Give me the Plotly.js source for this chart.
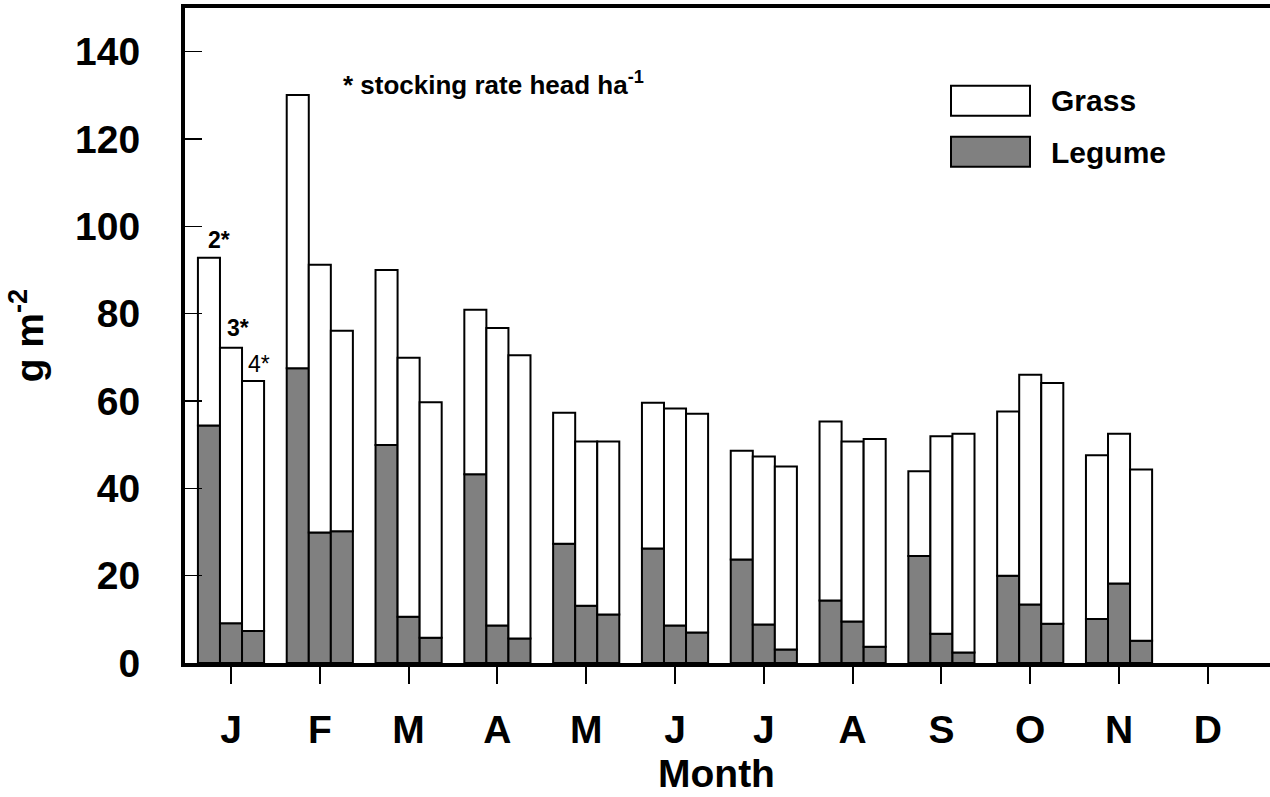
<!DOCTYPE html>
<html>
<head>
<meta charset="utf-8">
<script src="https://cdn.plot.ly/plotly-3.0.1.min.js"></script>
<style>html,body{margin:0;padding:0;background:#fff;}#chart{width:1270px;height:797px;}</style>
</head>
<body>
<div id="chart"></div>
<script>
// Month tick labels (January .. December)
var monthLabels = ['J','F','M','A','M','J','J','A','S','O','N','D'];
// Month index for each measured group (Jan..Nov)
var monthIdx = [0,1,2,3,4,5,6,7,8,9,10];

// Total herbage mass (g m-2) by stocking rate (head ha-1)
var total2 = [92.8,130.1,90.0,80.9,57.3,59.6,48.6,55.3,43.9,57.6,47.6];
var total3 = [72.2,91.2,69.9,76.7,50.7,58.3,47.3,50.7,51.9,66.0,52.5];
var total4 = [64.6,76.1,59.7,70.5,50.7,57.1,45.0,51.3,52.5,64.1,44.3];

// Legume component (g m-2)
var legume2 = [54.4,67.5,49.9,43.2,27.3,26.2,23.7,14.3,24.5,20.0,10.1];
var legume3 = [9.1,29.9,10.6,8.6,13.1,8.6,8.8,9.5,6.7,13.4,18.2];
var legume4 = [7.3,30.2,5.8,5.6,11.1,7.0,3.1,3.7,2.4,9.0,5.1];

var rates = ['2','3','4'];
var totals = [total2,total3,total4];
var legumes = [legume2,legume3,legume4];

var FONT = 'Liberation Sans, Arial, Helvetica, sans-serif';
var traces = [];
rates.forEach(function(r,i){
  var leg = legumes[i];
  var grass = totals[i].map(function(t,k){return +(t-leg[k]).toFixed(2);});
  traces.push({
    type:'bar', x:monthIdx, y:leg, offsetgroup:r, name:'Legume',
    marker:{color:'#808080', line:{color:'#000', width:2}}, showlegend:false
  });
  traces.push({
    type:'bar', x:monthIdx, y:grass, base:leg, offsetgroup:r, name:'Grass',
    marker:{color:'#ffffff', line:{color:'#000', width:2}}, showlegend:false
  });
});

var pxX = function(px){return (px-185)/1085;};
var pxY = function(py){return (663-py)/654.6;};

var layout = {
  width:1270, height:797,
  margin:{l:185, r:0, t:8.4, b:134},
  paper_bgcolor:'#fff', plot_bgcolor:'#fff',
  barmode:'group', bargap:0.255, bargroupgap:0,
  font:{family:FONT, color:'#000'},
  xaxis:{
    range:[-0.518, 11.70], tickmode:'array',
    tickvals:monthLabels.map(function(m,i){return i;}), ticktext:monthLabels,
    showline:true, mirror:true, linewidth:4, linecolor:'#000',
    ticks:'outside', ticklen:17, tickwidth:2, tickcolor:'#000',
    showgrid:false, zeroline:false,
    tickfont:{family:FONT, size:39, weight:'bold'}, ticklabelstandoff:12
  },
  yaxis:{
    range:[0,150], tickvals:[0,20,40,60,80,100,120,140],
    showline:true, linewidth:4, linecolor:'#000',
    ticks:'inside', ticklen:17, tickwidth:1.5, tickcolor:'#000',
    showgrid:false, zeroline:false,
    tickfont:{family:FONT, size:39, weight:'bold'}, ticklabelstandoff:33,
    title:{text:'g m<sup>-2</sup>', font:{family:FONT, size:39, weight:'bold'}, standoff:20}
  },
  shapes:[
    {type:'rect', xref:'paper', yref:'paper', x0:pxX(951), x1:pxX(1030), y0:pxY(116), y1:pxY(86), fillcolor:'#ffffff', line:{color:'#000', width:2}},
    {type:'rect', xref:'paper', yref:'paper', x0:pxX(951), x1:pxX(1030), y0:pxY(167), y1:pxY(137), fillcolor:'#808080', line:{color:'#000', width:2}}
  ],
  annotations:[
    {xref:'paper', yref:'paper', x:pxX(716), y:pxY(773), xanchor:'center', yanchor:'middle', showarrow:false, text:'Month', font:{family:FONT, size:39, weight:'bold'}},
    {xref:'paper', yref:'paper', x:pxX(1049), y:pxY(101), xanchor:'left', yanchor:'middle', showarrow:false, text:'Grass', font:{family:FONT, size:30, weight:'bold'}},
    {xref:'paper', yref:'paper', x:pxX(1049), y:pxY(153), xanchor:'left', yanchor:'middle', showarrow:false, text:'Legume', font:{family:FONT, size:30, weight:'bold'}},
    {xref:'paper', yref:'paper', x:pxX(341), y:pxY(84), xanchor:'left', yanchor:'middle', showarrow:false, text:'* stocking rate head ha<sup>-1</sup>', font:{family:FONT, size:26, weight:'bold'}},
    {xref:'x', yref:'y', x:monthIdx[0]-0.248, y:total2[0], xshift:10, yshift:3, xanchor:'center', yanchor:'bottom', showarrow:false, text:'2*', font:{family:FONT, size:23, weight:'bold'}},
    {xref:'x', yref:'y', x:monthIdx[0], y:total3[0], xshift:7, yshift:5, xanchor:'center', yanchor:'bottom', showarrow:false, text:'3*', font:{family:FONT, size:23, weight:'bold'}},
    {xref:'x', yref:'y', x:monthIdx[0]+0.248, y:total4[0], xshift:6, yshift:2, xanchor:'center', yanchor:'bottom', showarrow:false, text:'4*', font:{family:FONT, size:23}}
  ]
};

Plotly.newPlot('chart', traces, layout, {displayModeBar:false, staticPlot:true});
</script>
</body>
</html>
